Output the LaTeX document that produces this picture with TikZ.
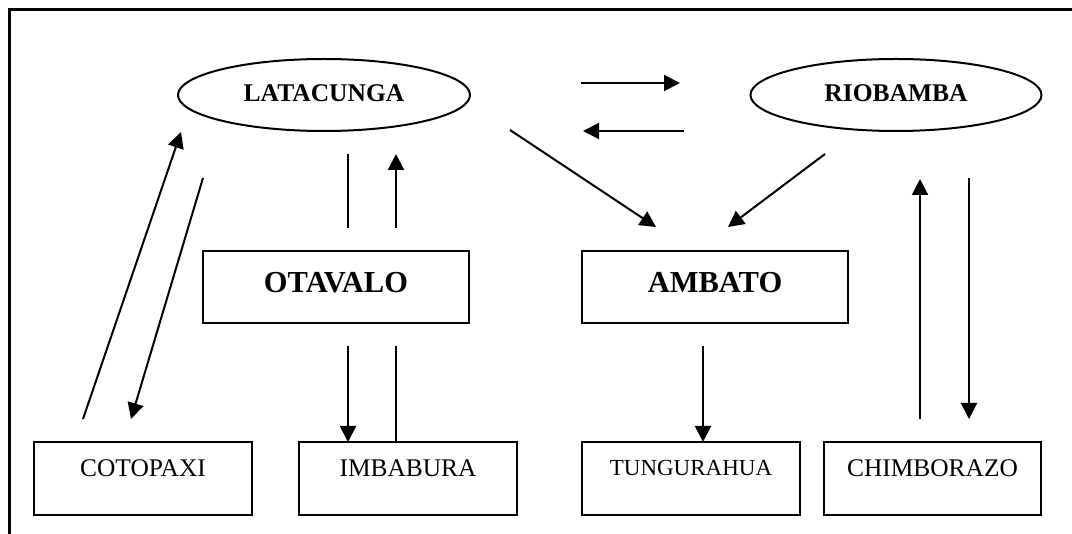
\documentclass[tikz,border=0pt]{standalone}
\usepackage{fontspec}
\setmainfont{Liberation Serif}
\usetikzlibrary{shapes.geometric,arrows.meta}
\tikzset{
  ln/.style={line width=2pt},
  arr/.style={line width=2pt,-{Triangle[length=16pt,width=16pt]}},
  oval/.style={ellipse,draw,line width=2pt,inner sep=0pt,minimum width=292pt,minimum height=72pt,
     font=\fontsize{25.5pt}{26pt}\selectfont\bfseries,text height=20pt,text depth=6pt},
  bigbox/.style={rectangle,draw,line width=2pt,inner sep=0pt,minimum width=266pt,
     font=\fontsize{30.5pt}{31pt}\selectfont\bfseries,text height=42pt,text depth=30pt},
  smallbox/.style={rectangle,draw,line width=2pt,inner sep=0pt,minimum width=218pt,
     font=\fontsize{25.4pt}{26pt}\selectfont,text height=35pt,text depth=38pt},
}
\begin{document}
\begin{tikzpicture}[x=1pt,y=-1pt]
\useasboundingbox (0,0) rectangle (1072,534);
% frame
\coordinate (fl) at (9.5,534);
\coordinate (fc) at (9.5,9.5);
\coordinate (fr) at (1072,9.5);
\draw[line width=2.2pt] (fl) -- (fc) -- (fr);
% nodes
\node[oval] (lat) at (324,95) {LATACUNGA};
\node[oval,minimum width=291pt] (rio) at (896,95) {RIOBAMBA};
\node[bigbox] (ota) at (336,287) {OTAVALO};
\node[bigbox] (amb) at (715,287) {AMBATO};
\node[smallbox] (cot) at (143,478.5) {COTOPAXI};
\node[smallbox] (imb) at (408,478.5) {IMBABURA};
\node[smallbox,font=\fontsize{23pt}{24pt}\selectfont,text height=34pt,text depth=39pt] (tun) at (691,478.5) {TUNGURAHUA};
\node[smallbox,minimum width=217pt] (chi) at (932.5,478.5) {CHIMBORAZO};
% endpoints
\coordinate (a1s) at (581,83);  \coordinate (a1e) at (680,83);
\coordinate (a2s) at (684,131); \coordinate (a2e) at (583,131);
\coordinate (a3s) at (510,130); \coordinate (a3e) at (656,227);
\coordinate (a4s) at (825,154); \coordinate (a4e) at (728,227);
\coordinate (a5s) at (348,154); \coordinate (a5e) at (348,228);
\coordinate (a6s) at (396,228); \coordinate (a6e) at (396,154);
\coordinate (a7s) at (348,346); \coordinate (a7e) at (348,442);
\coordinate (a8s) at (396,346); \coordinate (a8e) at (396,442);
\coordinate (a9s) at (83,419);  \coordinate (a9e) at (181,132);
\coordinate (a10s) at (203,178); \coordinate (a10e) at (131,419);
\coordinate (a11s) at (703,346); \coordinate (a11e) at (703,442);
\coordinate (a12s) at (920,419); \coordinate (a12e) at (920,179);
\coordinate (a13s) at (969,178); \coordinate (a13e) at (969,419);
% connectors
\draw[arr] (a1s) -- (a1e);
\draw[arr] (a2s) -- (a2e);
\draw[arr] (a3s) -- (a3e);
\draw[arr] (a4s) -- (a4e);
\draw[ln]  (a5s) -- (a5e);
\draw[arr] (a6s) -- (a6e);
\draw[arr] (a7s) -- (a7e);
\draw[ln]  (a8s) -- (a8e);
\draw[arr] (a9s) -- (a9e);
\draw[arr] (a10s) -- (a10e);
\draw[arr] (a11s) -- (a11e);
\draw[arr] (a12s) -- (a12e);
\draw[arr] (a13s) -- (a13e);
\end{tikzpicture}
\end{document}
